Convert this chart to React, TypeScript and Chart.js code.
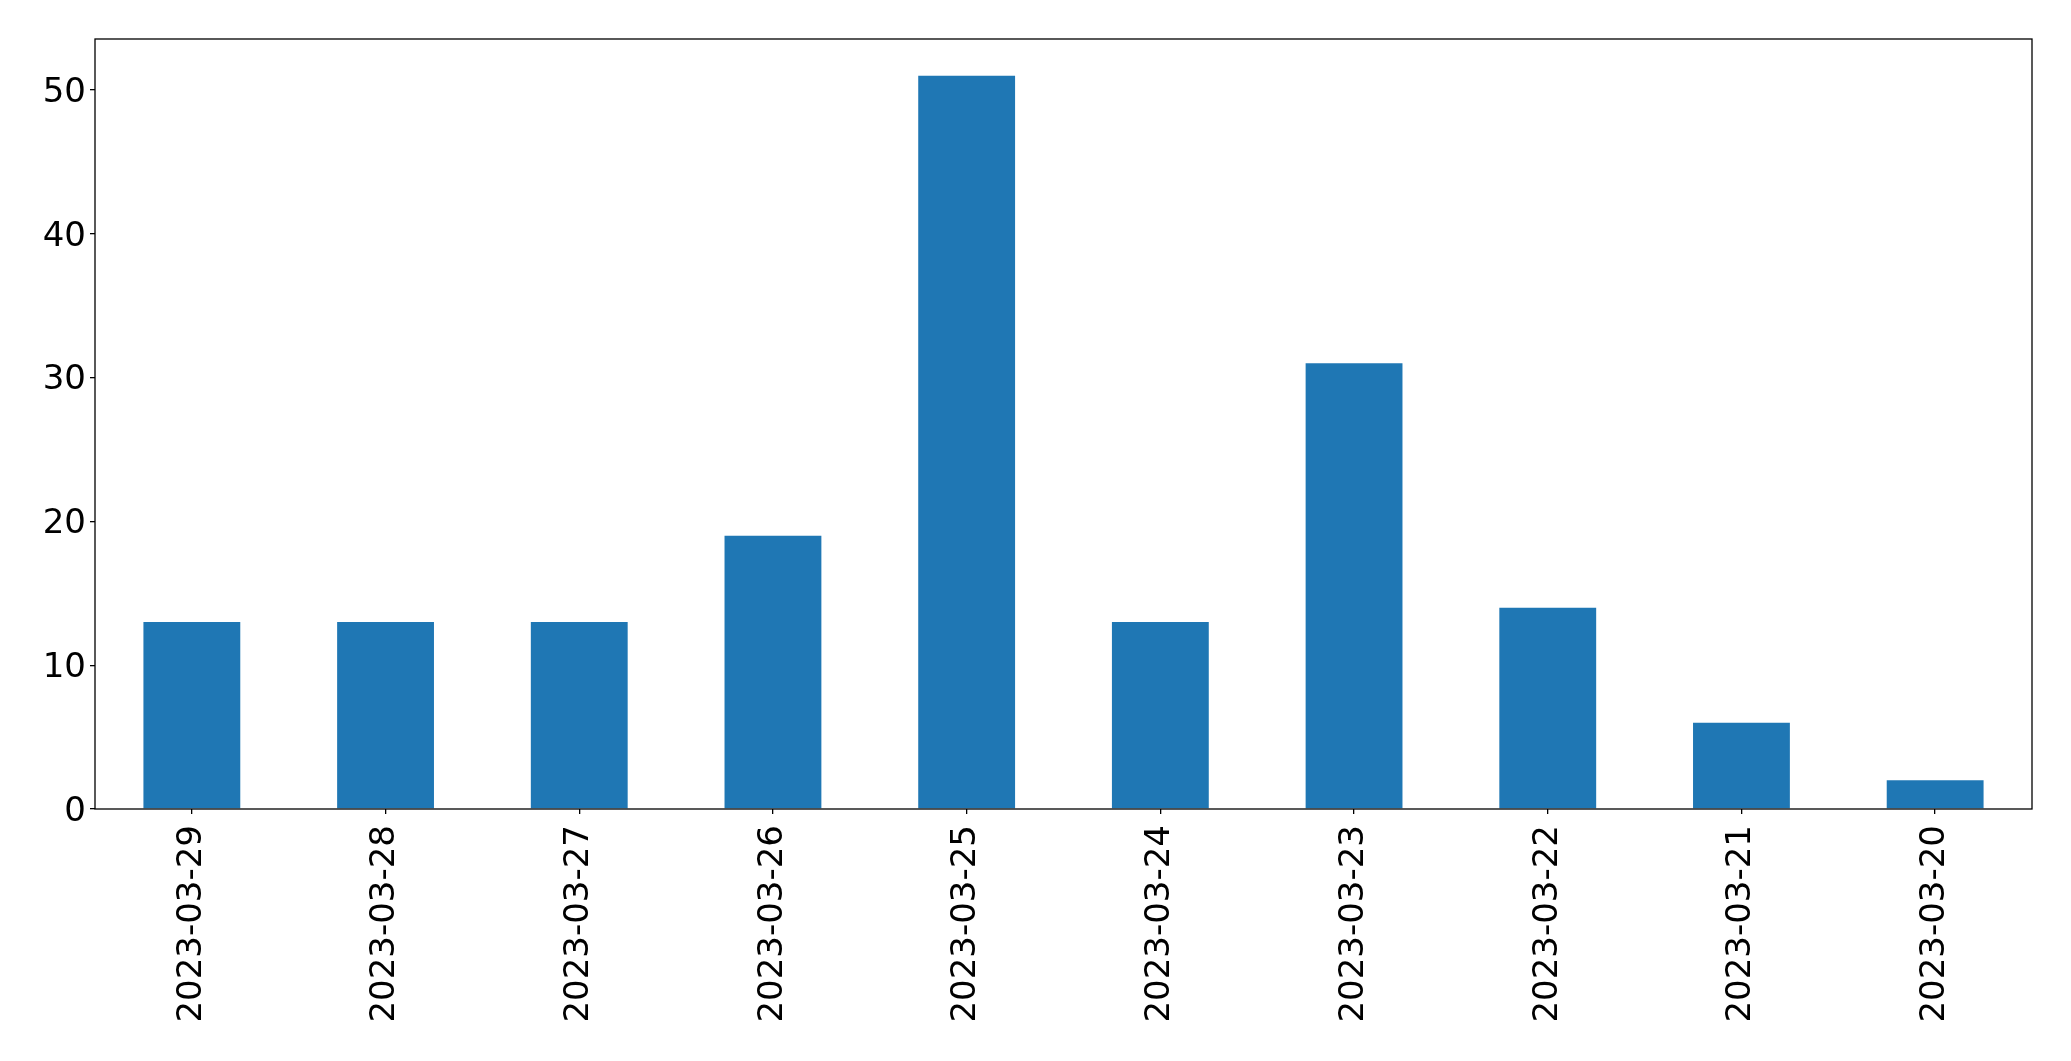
import React, { useEffect, useRef } from "react";
import { Chart, registerables } from "chart.js";

Chart.register(...registerables);

const categories = ["2023-03-29", "2023-03-28", "2023-03-27", "2023-03-26", "2023-03-25", "2023-03-24", "2023-03-23", "2023-03-22", "2023-03-21", "2023-03-20"];
const values = [13, 13, 13, 19, 51, 13, 31, 14, 6, 2];
const yTicks = [0, 10, 20, 30, 40, 50];
const yMax = 53.55;

const framePlugin = {
  id: "frame",
  afterDraw(chart: any) {
    const { ctx, chartArea } = chart;
    ctx.save();
    ctx.strokeStyle = "#000";
    ctx.lineWidth = 1.3;
    ctx.strokeRect(chartArea.left, chartArea.top, chartArea.right - chartArea.left, chartArea.bottom - chartArea.top);
    ctx.restore();
  },
};

export default function App() {
  const ref = useRef<HTMLCanvasElement>(null);
  useEffect(() => {
    document.body.style.margin = "0";
    const chart = new Chart(ref.current!, {
      type: "bar",
      data: {
        labels: categories,
        datasets: [
          {
            data: values,
            backgroundColor: "#1f77b4",
            borderWidth: 0,
            categoryPercentage: 1,
            barPercentage: 0.5,
          },
        ],
      },
      options: {
        animation: false,
        responsive: false,
        maintainAspectRatio: false,
        layout: { padding: { top: 39, right: 39, left: 0, bottom: 0 } },
        plugins: { legend: { display: false }, tooltip: { enabled: false } },
        scales: {
          x: {
            offset: true,
            grid: { display: true, offset: false, drawOnChartArea: false, drawTicks: true, tickLength: 5, color: "#000", lineWidth: 1.3 },
            border: { display: false },
            ticks: {
              color: "#000",
              font: { family: "DejaVu Sans", size: 34 },
              minRotation: 90,
              maxRotation: 90,
              padding: 11,
              autoSkip: false,
            },
            afterFit(scale: any) {
              scale.height = 252;
            },
          },
          y: {
            min: 0,
            max: yMax,
            grid: { display: true, drawOnChartArea: false, drawTicks: true, tickLength: 5, color: "#000", lineWidth: 1.3 },
            border: { display: false },
            ticks: {
              color: "#000",
              font: { family: "DejaVu Sans", size: 34 },
              padding: 4,
              labelOffset: 3,
            },
            afterBuildTicks(scale: any) {
              scale.ticks = yTicks.map((v) => ({ value: v }));
            },
            afterFit(scale: any) {
              scale.width = 95;
            },
          },
        },
      },
      plugins: [framePlugin],
    });
    return () => chart.destroy();
  }, []);
  return (
    <div style={{ position: "fixed", left: 0, top: 0, width: 2071, height: 1061, background: "#fff" }}>
      <canvas ref={ref} width={2071} height={1061} style={{ width: 2071, height: 1061 }} />
    </div>
  );
}
